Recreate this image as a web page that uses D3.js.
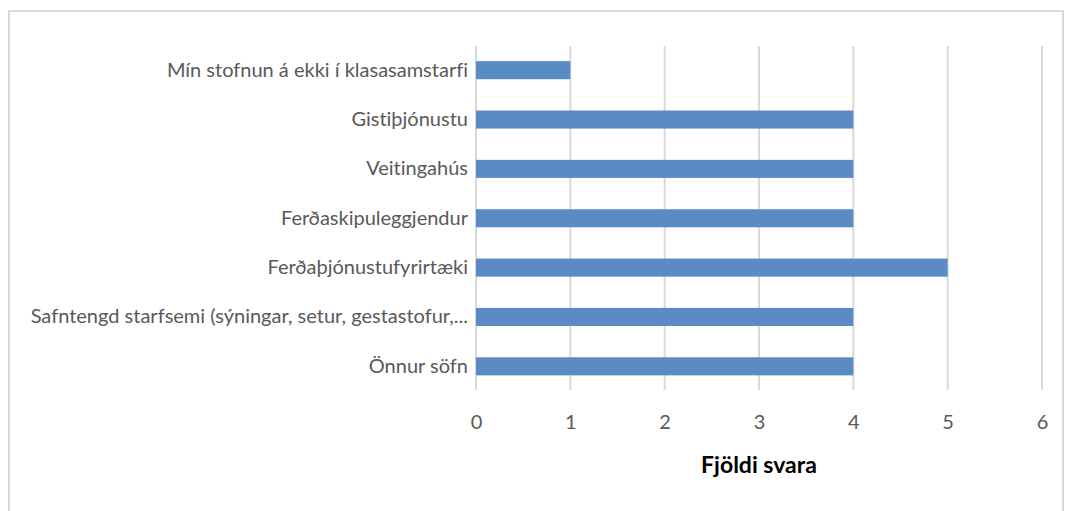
<!DOCTYPE html>
<html>
<head>
<meta charset="utf-8">
<script src="https://cdn.jsdelivr.net/npm/d3@7"></script>
<style>
  body { margin: 0; background: #fff; }
  svg { display: block; }
  text { font-variant-ligatures: none; font-feature-settings: "liga" 0; }
</style>
</head>
<body>
<div id="chart"></div>
<script>
const categories = [
  'Mín stofnun á ekki í klasasamstarfi',
  'Gistiþjónustu',
  'Veitingahús',
  'Ferðaskipuleggjendur',
  'Ferðaþjónustufyrirtæki',
  'Safntengd starfsemi (sýningar, setur, gestastofur,...',
  'Önnur söfn'
];
const values = [1, 4, 4, 4, 5, 4, 4];
const xTicks = [0, 1, 2, 3, 4, 5, 6];
const axisTitle = 'Fjöldi svara';

const width = 1070;
const height = 511;
const margin = { top: 46, left: 476 };
const font = 'Lato, "Open Sans", sans-serif';

const svg = d3.select('#chart')
  .append('svg')
  .attr('width', width)
  .attr('height', height);

// chart frame
svg.append('rect')
  .attr('x', 9)
  .attr('y', 11)
  .attr('width', 1054)
  .attr('height', 520)
  .attr('fill', 'none')
  .attr('stroke', '#d9d9d9')
  .attr('stroke-width', 2);

const x = d3.scaleLinear()
  .domain([0, 6])
  .range([margin.left, margin.left + 566]);

const y = d3.scaleBand()
  .domain(categories)
  .range([45.5, 391])
  .paddingInner(0.634)
  .paddingOuter(0.317);

// gridlines
svg.append('g')
  .selectAll('line')
  .data(xTicks)
  .join('line')
    .attr('x1', d => x(d))
    .attr('x2', d => x(d))
    .attr('y1', margin.top)
    .attr('y2', 390)
    .attr('stroke', '#d9d9d9')
    .attr('stroke-width', 2);

svg.append('g')
  .attr('fill', '#5b8bc5')
  .selectAll('rect')
  .data(values)
  .join('rect')
    .attr('x', x(0))
    .attr('y', (d, i) => y(categories[i]))
    .attr('width', d => x(d) - x(0))
    .attr('height', y.bandwidth());

// y axis labels
const yAxis = svg.append('g')
  .attr('transform', `translate(${x(0)},0)`)
  .call(d3.axisLeft(y).tickSize(0).tickPadding(8));
yAxis.select('.domain').remove();
yAxis.selectAll('text')
  .attr('font-family', font)
  .attr('font-size', '20px')
  .attr('fill', '#595959');

// x axis labels
const xAxis = svg.append('g')
  .attr('transform', 'translate(0,415)')
  .call(d3.axisBottom(x).tickValues(xTicks).tickFormat(d3.format('d')).tickSize(0).tickPadding(0));
xAxis.select('.domain').remove();
xAxis.selectAll('text')
  .attr('font-family', font)
  .attr('font-size', '20px')
  .attr('fill', '#595959');

svg.append('text')
  .attr('x', (x(0) + x(6)) / 2)
  .attr('y', 473)
  .attr('text-anchor', 'middle')
  .attr('font-family', font)
  .attr('font-size', '23px')
  .attr('font-weight', 'bold')
  .attr('fill', '#000')
  .text(axisTitle);
</script>
</body>
</html>
